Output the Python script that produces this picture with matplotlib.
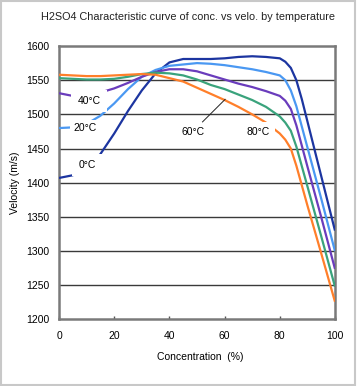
import matplotlib
matplotlib.use("Agg")
import matplotlib.pyplot as plt
from matplotlib.patches import Rectangle

plt.rcParams['font.family'] = ['Liberation Sans', 'DejaVu Sans']

conc = [0, 5, 10, 15, 20, 25, 30, 35, 40, 45, 50, 55, 60, 65, 70, 75, 80, 82, 84, 86, 88, 90, 95, 100]
v0 = [1407, 1411, 1422, 1442, 1472, 1505, 1535, 1560, 1576, 1581, 1581, 1581, 1582, 1584, 1585, 1584, 1582, 1577, 1568, 1550, 1522, 1490, 1410, 1330]
v20 = [1480, 1481, 1486, 1498, 1516, 1537, 1555, 1565, 1571, 1573, 1575, 1574, 1572, 1569, 1566, 1562, 1557, 1550, 1535, 1512, 1482, 1452, 1377, 1300]
v40 = [1531, 1527, 1528, 1532, 1538, 1546, 1555, 1562, 1566, 1566, 1563, 1557, 1551, 1545, 1540, 1534, 1527, 1520, 1508, 1484, 1454, 1424, 1350, 1274]
v60 = [1553, 1552, 1551, 1551, 1552, 1555, 1559, 1561, 1560, 1557, 1551, 1543, 1537, 1529, 1521, 1511, 1497, 1488, 1476, 1453, 1424, 1395, 1322, 1248]
v80 = [1558, 1557, 1556, 1556, 1557, 1558, 1559, 1558, 1553, 1548, 1539, 1530, 1521, 1511, 1500, 1488, 1472, 1463, 1450, 1425, 1396, 1367, 1297, 1226]

series = [v0, v20, v40, v60, v80]
labels = ['0°C', '20°C', '40°C', '60°C', '80°C']
colors = ['#1c35a0', '#4a98f2', '#6a3cbc', '#3aa37c', '#ff7f2a']

xticks = [0, 20, 40, 60, 80, 100]
yticks = [1200, 1250, 1300, 1350, 1400, 1450, 1500, 1550, 1600]

fig = plt.figure(figsize=(3.57, 3.86), dpi=100)
ax = fig.add_axes([0.1653, 0.1723, 0.773, 0.7085])

for yv in yticks[1:-1]:
    ax.axhline(yv, color='#3a3a3a', lw=1.0, zorder=1)

for vals, col in zip(series, colors):
    ax.plot(conc, vals, color=col, lw=1.6, zorder=3, solid_capstyle='butt')

ax.set_xlim(0, 100)
ax.set_ylim(1200, 1600)
ax.set_xticks(xticks)
ax.set_yticks(yticks)
ax.tick_params(axis='x', direction='in', length=2.5, width=1, color='#555555', pad=8, labelsize=7.5)
ax.tick_params(axis='y', length=0, pad=7, labelsize=7.5)
for s in ax.spines.values():
    s.set_color('#7a7a7a')
    s.set_linewidth(1.8)

ax.text(10.2, 1426, labels[0], fontsize=7.5, ha='center', va='center',
        bbox=dict(facecolor='white', edgecolor='none', pad=4.5), zorder=4)
ax.text(9.6, 1480, labels[1], fontsize=7.5, ha='center', va='center',
        bbox=dict(facecolor='white', edgecolor='none', pad=2.5), zorder=4)
ax.text(10.9, 1519.5, labels[2], fontsize=7.5, ha='center', va='center',
        bbox=dict(facecolor='white', edgecolor='none', pad=4.5), zorder=4)
ax.text(48.4, 1474.6, labels[3], fontsize=7.5, ha='center', va='center', zorder=4)
ax.text(72.3, 1474.6, labels[4], fontsize=7.5, ha='center', va='center',
        bbox=dict(facecolor='white', edgecolor='none', pad=3.5), zorder=4)
ax.plot([52.0, 60.2], [1489, 1522], color='#222222', lw=0.7, zorder=5)

fig.text(0.527, 0.956, 'H2SO4 Characteristic curve of conc. vs velo. by temperature',
         ha='center', va='center', fontsize=7.8, color='#222222')
fig.text(0.56, 0.075, 'Concentration  (%)', ha='center', va='center', fontsize=7.5)
fig.text(0.042, 0.526, 'Velocity (m/s)', ha='center', va='center', rotation=90, fontsize=7.5)

fig.patches.append(Rectangle((0.004, 0.003), 0.99, 0.994, transform=fig.transFigure,
                             fill=False, edgecolor='#c8c8c8', lw=1.5))

fig.savefig('out.png', dpi=100)
